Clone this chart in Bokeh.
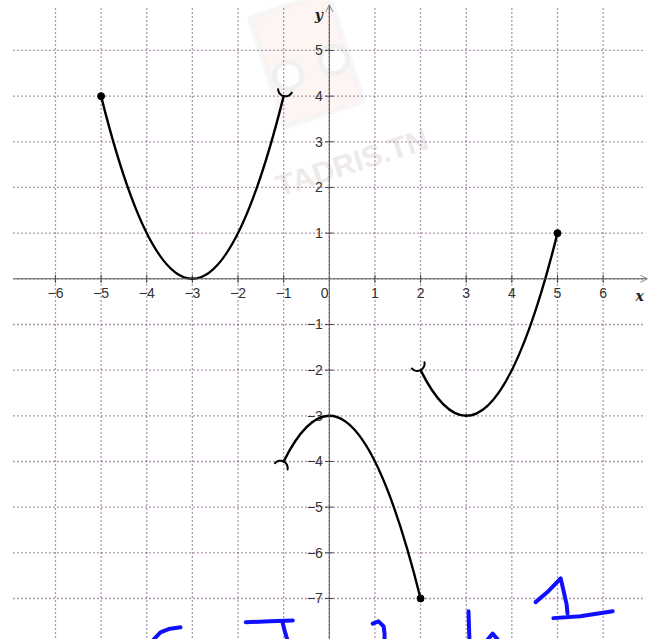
import math
from bokeh.plotting import figure
from bokeh.models import Arrow, OpenHead
from bokeh.core.properties import value
from bokeh.embed import file_html
from bokeh.resources import INLINE

# ---- piecewise function: each piece is a parabola arc (start, vertex, end) ----
start_x = [-5, -1, 2]
start_y = [4, -4, -2]
vertex_x = [-3, 0, 3]
vertex_y = [0, -3, -3]
end_x = [-1, 2, 5]
end_y = [4, -7, 1]

# closed endpoints
closed_x = [-5, 5, 2]
closed_y = [4, 1, -7]

# open endpoints
open_x = [-1, -1, 2]
open_y = [4, -4, -2]

# axis ticks and labels
x_ticks = [-6, -5, -4, -3, -2, -1, 1, 2, 3, 4, 5, 6]
x_tick_labels = ["\u22126", "\u22125", "\u22124", "\u22123", "\u22122", "\u22121", "1", "2", "3", "4", "5", "6"]
y_ticks = [5, 4, 3, 2, 1, -1, -2, -3, -4, -5, -6, -7]
y_tick_labels = ["5", "4", "3", "2", "1", "\u22121", "\u22122", "\u22123", "\u22124", "\u22125", "\u22126", "\u22127"]
grid_x = [-6, -5, -4, -3, -2, -1, 0, 1, 2, 3, 4, 5, 6]
grid_y = [5, 4, 3, 2, 1, 0, -1, -2, -3, -4, -5, -6, -7]

# handwritten blue ink strokes along the bottom edge
ink_x = [
    [-3.85, -3.70, -3.52, -3.26],
    [-1.83, -1.30, -0.80],
    [-1.03, -0.98, -0.92],
    [0.95, 1.08, 1.19, 1.21, 1.21],
    [3.05, 3.06, 3.07],
    [3.47, 3.58, 3.69],
    [4.52, 4.80, 5.07, 5.13, 5.20, 5.22],
    [4.91, 5.50, 6.21],
]
ink_y = [
    [-7.90, -7.74, -7.67, -7.63],
    [-7.52, -7.50, -7.48],
    [-7.50, -7.70, -7.90],
    [-7.55, -7.50, -7.61, -7.76, -7.90],
    [-7.28, -7.60, -7.90],
    [-7.90, -7.77, -7.90],
    [-7.08, -6.84, -6.56, -6.82, -7.13, -7.33],
    [-7.43, -7.39, -7.28],
]

X0, X1 = -7.204, 7.235
Y0, Y1 = -7.898, 6.094

p = figure(width=659, height=639, x_range=(X0, X1), y_range=(Y0, Y1),
           x_axis_type=None, y_axis_type=None,
           output_backend="svg", toolbar_location=None, min_border=0)
p.outline_line_color = None
p.background_fill_color = "white"
p.border_fill_color = "white"

# faint watermark
p.rect(x=[-0.5], y=[4.8], width=1.8, height=2.5, angle=math.radians(18),
       fill_color="#fdf2ee", fill_alpha=0.8, line_color="#f3f3f3", line_width=6, line_alpha=0.7)
p.circle(x=[-0.9, 0.1], y=[4.45, 4.8], radius=0.3, fill_color="white", fill_alpha=0.9,
         line_color="#f0f0f0", line_width=5)
p.text(x=[0.5], y=[2.55], text=["TADRIS.TN"], angle=math.radians(18),
       text_font=value("Liberation Sans"), text_font_style="bold", text_font_size="30px",
       text_color="#eeeaea", text_align="center", text_baseline="middle")

# dotted grid
grid_col = "#5e3064"
p.segment(x0=grid_x, y0=[5.92] * len(grid_x), x1=grid_x, y1=[Y0] * len(grid_x),
          line_color=grid_col, line_dash="1 3", line_width=1.3)
p.segment(x0=[-6.92] * len(grid_y), y0=grid_y, x1=[6.93] * len(grid_y), y1=grid_y,
          line_color=grid_col, line_dash="1 3", line_width=1.3)

# axes with arrowheads
p.add_layout(Arrow(end=OpenHead(size=7, line_color="#888888", line_width=1),
                   x_start=-6.92, y_start=0, x_end=6.97, y_end=0,
                   line_color="#555555", line_width=1))
p.add_layout(Arrow(end=OpenHead(size=7, line_color="#888888", line_width=1),
                   x_start=0, y_start=Y0, x_end=0, y_end=6.0,
                   line_color="#555555", line_width=1))

# tick marks
tl = 0.09
p.segment(x0=x_ticks, y0=[-tl] * len(x_ticks), x1=x_ticks, y1=[tl] * len(x_ticks),
          line_color="#444444", line_width=1)
p.segment(x0=[-tl] * len(y_ticks), y0=y_ticks, x1=[tl] * len(y_ticks), y1=y_ticks,
          line_color="#444444", line_width=1)

# tick labels
lab_font = value("Liberation Sans")
p.text(x=x_ticks, y=[-0.3] * len(x_ticks), text=x_tick_labels, text_font=lab_font,
       text_font_size="14px", text_color="#333333", text_align="center", text_baseline="middle")
p.text(x=[-0.1], y=[-0.3], text=["0"], text_font=lab_font,
       text_font_size="14px", text_color="#333333", text_align="center", text_baseline="middle")
p.text(x=[-0.14] * len(y_ticks), y=y_ticks, text=y_tick_labels, text_font=lab_font,
       text_font_size="14px", text_color="#333333", text_align="right", text_baseline="middle")

# axis names
name_font = value("DejaVu Serif")
p.text(x=[6.8], y=[-0.37], text=["x"], text_font=name_font, text_font_style="bold italic",
       text_font_size="14px", text_color="#222222", text_align="center", text_baseline="middle")
p.text(x=[-0.23], y=[5.77], text=["y"], text_font=name_font, text_font_style="bold italic",
       text_font_size="14px", text_color="#222222", text_align="center", text_baseline="middle")

# curve pieces: each half of a parabola is an exact quadratic Bezier whose
# control point sits at the vertex height, halfway between the end and the vertex
q_x0, q_y0, q_x1, q_y1, q_cx, q_cy = [], [], [], [], [], []
for sx, sy, vx, vy, ex, ey in zip(start_x, start_y, vertex_x, vertex_y, end_x, end_y):
    q_x0 += [sx, vx]
    q_y0 += [sy, vy]
    q_x1 += [vx, ex]
    q_y1 += [vy, ey]
    q_cx += [(sx + vx) / 2, (vx + ex) / 2]
    q_cy += [vy, vy]
p.quadratic(x0=q_x0, y0=q_y0, x1=q_x1, y1=q_y1, cx=q_cx, cy=q_cy,
            line_color="black", line_width=2.4, line_cap="round")

# filled dots at closed ends
p.scatter(closed_x, closed_y, size=7, fill_color="black", line_color="black")

# open ends: small arcs across the curve, concave away from it
r = 0.16
for ox, oy in zip(open_x, open_y):
    i = next(k for k in range(3) if (start_x[k], start_y[k]) == (ox, oy) or (end_x[k], end_y[k]) == (ox, oy))
    vx, vy = vertex_x[i], vertex_y[i]
    # outward tangent of the parabola at this end
    slope = 2 * (oy - vy) / (ox - vx)
    sgn = 1 if ox > vx else -1
    n = math.hypot(1, slope)
    ux, uy = sgn / n, sgn * slope / n
    nx, ny = -uy, ux
    cx, cy = ox + r * ux, oy + r * uy
    ax, ay = [], []
    for k in range(15):
        phi = math.radians(-75 + 150 * k / 14)
        ax.append(cx - r * (math.cos(phi) * ux + math.sin(phi) * nx))
        ay.append(cy - r * (math.cos(phi) * uy + math.sin(phi) * ny))
    p.line(ax, ay, line_color="black", line_width=2, line_cap="round")

# blue ink
p.multi_line(xs=ink_x, ys=ink_y, line_color="#1010ff", line_width=4,
             line_cap="round", line_join="round")

open("out.html", "w").write(file_html(p, INLINE))
